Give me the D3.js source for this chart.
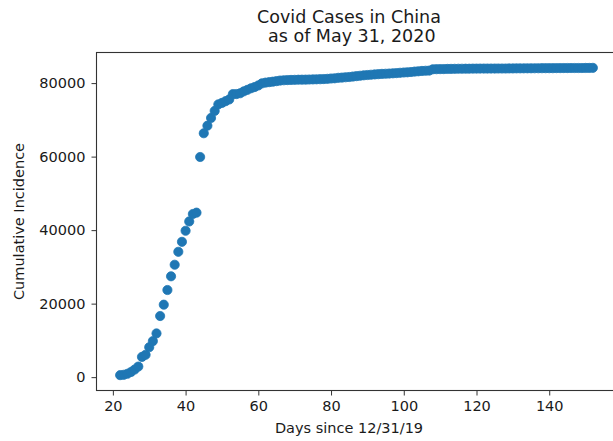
<html>
  <head>
    <script src="https://d3js.org/d3.v7.min.js"></script>
    <style type="text/css">
      body { margin: 0; background: white; }
      text { font-family: "DejaVu Sans", sans-serif; fill: #1a1a1a; }
    </style>
  </head>
  <body>
    <svg id="chart" width="613" height="441"></svg>
  </body>
  <script type="text/javascript">

    // days since 12/31/19 (Jan 22 .. May 31)
    var days = d3.range(22, 153);

    // cumulative cases, one per day
    var cases = [
      548, 643, 920, 1406, 2075, 2877, 5509, 6087, 8141, 9802,
      11891, 16630, 19716, 23707, 27440, 30587, 34110, 36814, 39829, 42354,
      44386, 44759, 59895, 66358, 68413, 70513, 72434, 74211, 74619, 75077,
      75550, 77001, 77022, 77241, 77754, 78166, 78600, 78928, 79356, 79932,
      80136, 80261, 80386, 80537, 80690, 80770, 80823, 80860, 80887, 80921,
      80932, 80945, 80977, 81003, 81033, 81058, 81102, 81156, 81250, 81305,
      81435, 81498, 81591, 81661, 81782, 81897, 81999, 82122, 82198, 82279,
      82361, 82432, 82511, 82543, 82602, 82665, 82718, 82809, 82883, 82941,
      83014, 83134, 83213, 83306, 83356, 83403, 83760, 83787, 83805, 83817,
      83853, 83868, 83884, 83899, 83909, 83912, 83918, 83940, 83944, 83956,
      83959, 83959, 83964, 83966, 83970, 83968, 83970, 83990, 83990, 84010,
      84011, 84018, 84024, 84029, 84038, 84044, 84054, 84063, 84063, 84063,
      84081, 84084, 84095, 84102, 84103, 84106, 84106, 84106, 84123, 84128,
      84146
    ];

    var xTicks = [20, 40, 60, 80, 100, 120, 140];
    var yTicks = [0, 20000, 40000, 60000, 80000];

    var titleLines = ["Covid Cases in China", " as of May 31, 2020"];
    var xLabel = "Days since 12/31/19";
    var yLabel = "Cumulative Incidence";

    var svg = d3.select("#chart");

    // plot frame (right edge runs past the picture, as in the original)
    var m = {left: 96.5, right: 616.5, top: 52.5, bottom: 390.5};

    // matplotlib-style 5% padding around the data
    var xPad = (d3.max(days) - d3.min(days)) * 0.05;
    var yPad = (d3.max(cases) - d3.min(cases)) * 0.05;

    var x = d3.scaleLinear()
      .domain([d3.min(days) - xPad, d3.max(days) + xPad])
      .range([m.left, m.right]);

    var y = d3.scaleLinear()
      .domain([d3.min(cases) - yPad, d3.max(cases) + yPad])
      .range([m.bottom, m.top]);

    var pts = days.map(function(d, i) { return {day: d, n: cases[i]}; });

    svg.append("g").selectAll("circle")
      .data(pts)
      .enter().append("circle")
      .attr("cx", function(d) { return x(d.day); })
      .attr("cy", function(d) { return y(d.n); })
      .attr("r", 4.6)
      .attr("fill", "#1f77b4")
      .attr("stroke", "#1f77b4")
      .attr("stroke-width", 0.8);

    var xAxis = d3.axisBottom(x).tickValues(xTicks).tickSize(5).tickPadding(5);
    var yAxis = d3.axisLeft(y).tickValues(yTicks).tickSize(5).tickPadding(6)
      .tickFormat(d3.format("d"));

    var gx = svg.append("g")
      .attr("transform", "translate(0," + m.bottom + ")")
      .call(xAxis);
    var gy = svg.append("g")
      .attr("transform", "translate(" + m.left + ",0)")
      .call(yAxis);

    [gx, gy].forEach(function(g) {
      g.select(".domain").remove();
      g.selectAll("line").attr("stroke", "#333").attr("stroke-width", 1);
      g.selectAll("text")
        .style("font-family", "DejaVu Sans")
        .style("font-size", "14.5px")
        .attr("fill", "#1a1a1a");
    });

    // spines
    svg.append("rect")
      .attr("x", m.left).attr("y", m.top)
      .attr("width", m.right - m.left).attr("height", m.bottom - m.top)
      .attr("fill", "none")
      .attr("stroke", "#333")
      .attr("stroke-width", 1.1);

    var cx = 349;

    svg.append("text")
      .attr("x", cx).attr("y", 433)
      .attr("text-anchor", "middle")
      .style("font-size", "14.5px")
      .text(xLabel);

    svg.append("text")
      .attr("transform", "translate(24," + ((m.top + m.bottom) / 2) + ") rotate(-90)")
      .attr("text-anchor", "middle")
      .style("font-size", "14.5px")
      .text(yLabel);

    svg.append("g").selectAll("text")
      .data(titleLines)
      .enter().append("text")
      .attr("x", cx)
      .attr("y", function(d, i) { return 23 + i * 19; })
      .attr("text-anchor", "middle")
      .attr("xml:space", "preserve")
      .style("white-space", "pre")
      .style("font-size", "17.5px")
      .text(function(d) { return d; });

  </script>
</html>
